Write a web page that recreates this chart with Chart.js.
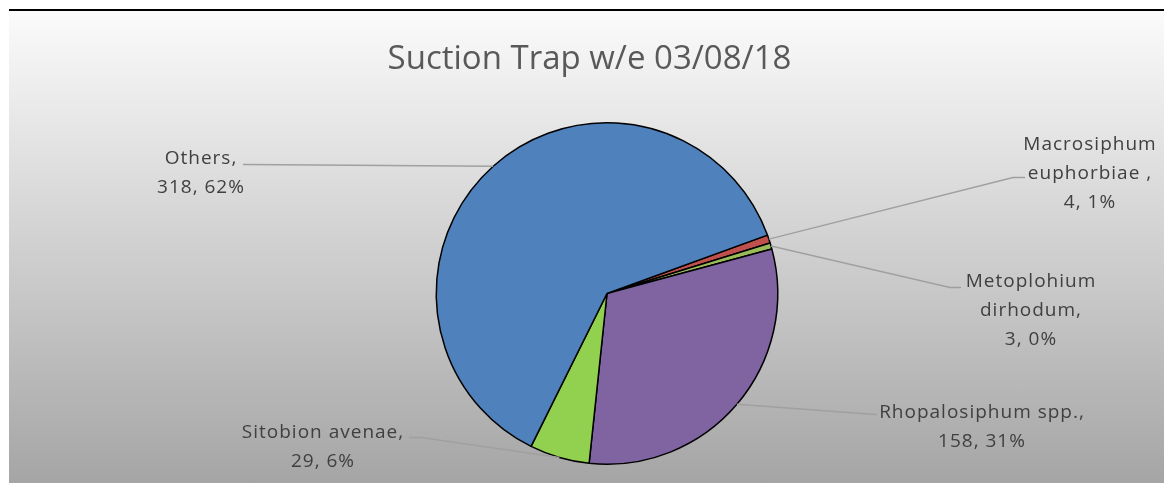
<!DOCTYPE html>
<html>
<head>
<meta charset="utf-8">
<title>Suction Trap</title>
<script src="https://cdn.jsdelivr.net/npm/chart.js@4.4.1/dist/chart.umd.min.js"></script>
<style>
  body { margin: 0; background: #fff; }
  .chart-wrapper {
    position: absolute;
    left: 9px; top: 9px;
    width: 1155px; height: 472px;
    border-top: 2px solid #000;
    background: linear-gradient(#fbfbfb, #a5a5a5);
  }
</style>
</head>
<body>
<div class="chart-wrapper">
  <canvas id="myChart" width="1155" height="472"></canvas>
</div>
<script>
  const title = "Suction Trap w/e 03/08/18";
  const categories = [["Macrosiphum", "euphorbiae "], ["Metoplohium", "dirhodum"], "Rhopalosiphum spp.", "Sitobion avenae", "Others"];
  const counts = [4, 3, 158, 29, 318];
  const colours = ["#C0504D", "#9BBB59", "#8064A2", "#92D050", "#4F81BD"];

  // where each label sits, px from the pie centre: text centre, leader elbow, leader end
  const labelLayout = [
    { dx: 483, dy: -120, ex: 406, ey: -116, tx: 418 },
    { dx: 424, dy: 17, ex: 343, ey: -6, tx: 354 },
    { dx: 375, dy: 134, ex: 268, ey: 121, tx: 270 },
    { dx: -284, dy: 154, ex: -186, ey: 144, tx: -198 },
    { dx: -406, dy: -120, ex: -362, ey: -129, tx: -364 },
  ];

  // excel style percentages (largest remainder so they add up to 100)
  function percents(vals) {
    const total = vals.reduce((a, b) => a + b, 0);
    const raw = vals.map(v => v / total * 100);
    const out = raw.map(Math.floor);
    let left = 100 - out.reduce((a, b) => a + b, 0);
    const order = raw.map((r, i) => i).sort((a, b) => (raw[b] - out[b]) - (raw[a] - out[a]));
    for (let k = 0; k < left; k++) out[order[k]]++;
    return out;
  }
  const pcts = percents(counts);

  const pieLabels = {
    id: "pieLabels",
    afterDatasetsDraw(chart) {
      const ctx = chart.ctx;
      const arcs = chart.getDatasetMeta(0).data;
      ctx.save();
      arcs.forEach((arc, i) => {
        const lay = labelLayout[i];
        const cx = arc.x, cy = arc.y;
        const mid = (arc.startAngle + arc.endAngle) / 2;
        ctx.strokeStyle = "#a0a0a0";
        ctx.lineWidth = 1.4;
        ctx.beginPath();
        ctx.moveTo(cx + Math.cos(mid) * arc.outerRadius, cy + Math.sin(mid) * arc.outerRadius);
        ctx.lineTo(cx + lay.ex, cy + lay.ey);
        ctx.lineTo(cx + lay.tx, cy + lay.ey);
        ctx.stroke();

        const name = [].concat(categories[i]);
        const lines = name.slice();
        lines[lines.length - 1] += ",";
        lines.push(counts[i] + ", " + pcts[i] + "%");
        ctx.font = "19px 'Open Sans'";
        ctx.letterSpacing = "1px";
        ctx.fillStyle = "#404040";
        ctx.textAlign = "center";
        ctx.textBaseline = "middle";
        const lh = 29;
        lines.forEach((t, k) => {
          ctx.fillText(t, cx + lay.dx, cy + lay.dy + (k - (lines.length - 1) / 2) * lh);
        });
      });
      ctx.letterSpacing = "0px";
      ctx.font = "33px 'Open Sans'";
      ctx.fillStyle = "#595959";
      ctx.textAlign = "center";
      ctx.textBaseline = "middle";
      ctx.fillText(title, chart.width / 2 + 3, 49);
      ctx.restore();
    }
  };

  const ctx = document.getElementById("myChart");
  const myChart = new Chart(ctx, {
    type: "pie",
    data: {
      labels: categories,
      datasets: [{
        data: counts,
        backgroundColor: colours,
        borderColor: "#000",
        borderWidth: 1.5,
      }],
    },
    options: {
      responsive: false,
      animation: false,
      events: [],
      rotation: 70,
      layout: { padding: { top: 111, bottom: 18, left: 41, right: 0 } },
      plugins: {
        legend: { display: false },
        title: { display: false },
        tooltip: { enabled: false },
      },
    },
    plugins: [pieLabels],
  });
</script>
</body>
</html>
